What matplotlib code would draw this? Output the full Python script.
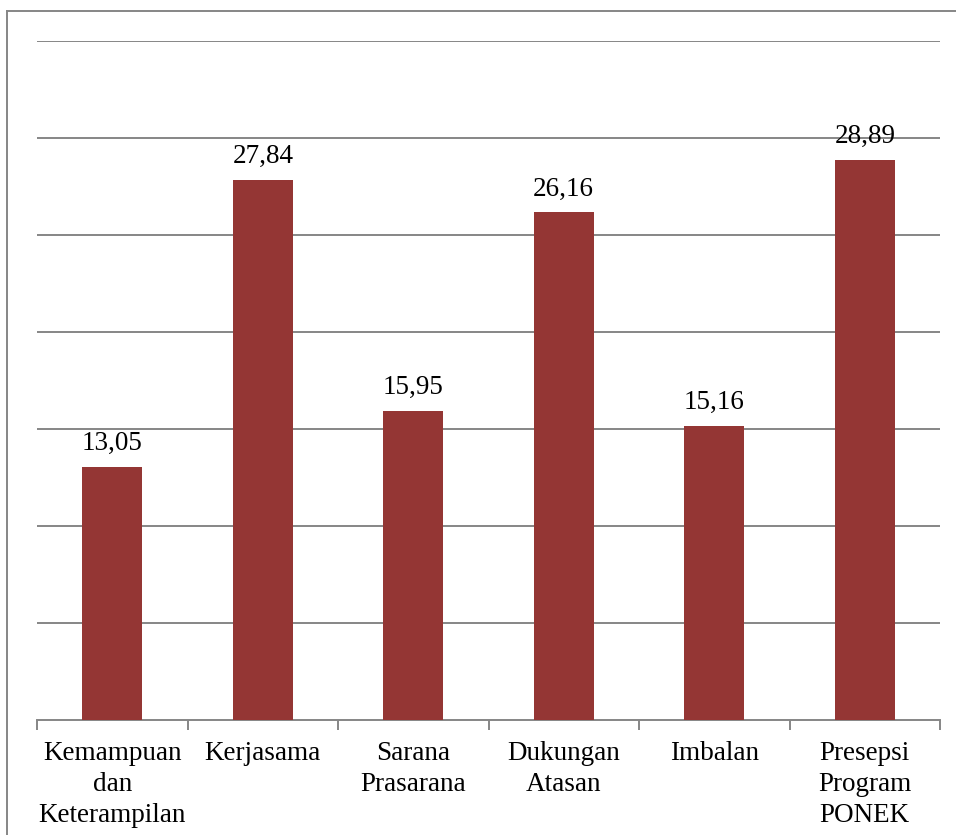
import matplotlib.pyplot as plt
from matplotlib.lines import Line2D

categories = ['Kemampuan\ndan\nKeterampilan', 'Kerjasama', 'Sarana\nPrasarana',
              'Dukungan\nAtasan', 'Imbalan', 'Presepsi\nProgram\nPONEK']
values = [13.05, 27.84, 15.95, 26.16, 15.16, 28.89]
value_labels = ['13,05', '27,84', '15,95', '26,16', '15,16', '28,89']

plt.rcParams['font.family'] = ['Liberation Serif', 'DejaVu Serif']

W, H = 956, 835
fig = plt.figure(figsize=(W / 100, H / 100), dpi=100)
ax = fig.add_axes([37 / W, 1 - 720 / H, (940 - 37) / W, (720 - 41) / H])

x = list(range(len(values)))
ax.bar(x, values, width=0.4, color='#943634', zorder=3)
for xi, v, lab in zip(x, values, value_labels):
    ax.text(xi, v + 0.55, lab, ha='center', va='bottom', fontsize=19.5, zorder=4)

ax.set_xlim(-0.5, len(values) - 0.5)
ax.set_ylim(0, 35)
ax.set_yticks(range(5, 36, 5))
ax.yaxis.grid(True, color='#868686', linewidth=1.4)
ax.set_axisbelow(True)
ax.tick_params(axis='y', length=0, labelleft=False)

ax.set_xticks([i - 0.5 for i in range(len(values) + 1)])
ax.set_xticklabels([])
ax.set_xticks(x, minor=True)
ax.set_xticklabels(categories, minor=True, fontsize=19.5, linespacing=1.33, va='top')
ax.tick_params(axis='x', which='major', length=7, color='#868686', width=1.4)
ax.tick_params(axis='x', which='minor', length=0, pad=15)

for s in ['top', 'right', 'left']:
    ax.spines[s].set_visible(False)
ax.spines['bottom'].set_color('#868686')
ax.spines['bottom'].set_linewidth(1.4)

# outer frame (only left and top visible in the crop)
fig.add_artist(Line2D([7 / W, 7 / W], [0, 1 - 11 / H], transform=fig.transFigure,
                      color='#868686', linewidth=1.4))
fig.add_artist(Line2D([7 / W, 1], [1 - 11 / H, 1 - 11 / H], transform=fig.transFigure,
                      color='#868686', linewidth=1.4))

fig.savefig('out.png', dpi=100)
